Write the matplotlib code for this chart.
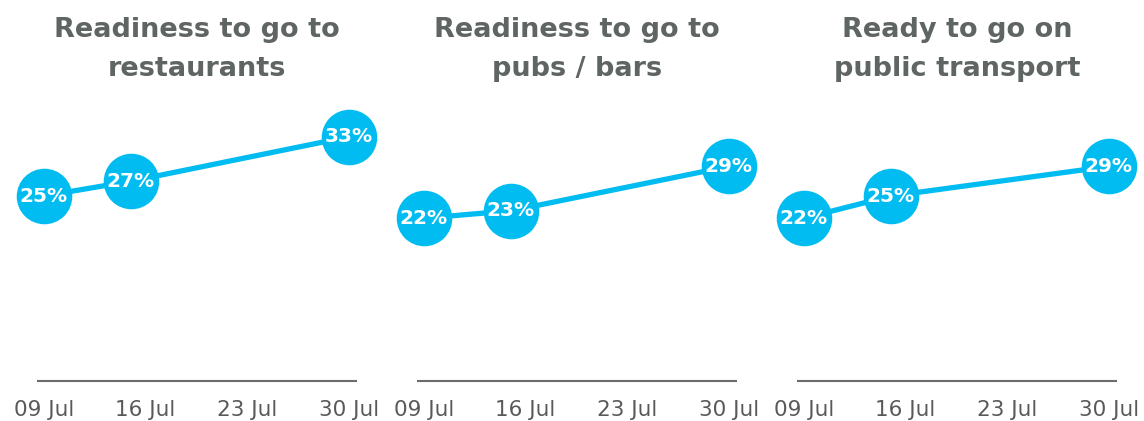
import matplotlib.pyplot as plt

# days in July
days = [9, 15, 30]
tick_days = [9, 16, 23, 30]
tick_labels = ["09 Jul", "16 Jul", "23 Jul", "30 Jul"]

titles = ["Readiness to go to\nrestaurants",
          "Readiness to go to\npubs / bars",
          "Ready to go on\npublic transport"]
restaurants = [25, 27, 33]
pubs = [22, 23, 29]
transport = [22, 25, 29]
series = [restaurants, pubs, transport]

blue = "#00BCF1"
grey = "#5f6562"

fig = plt.figure(figsize=(11.44, 4.21), dpi=100)
lefts = [38 / 1144, 418 / 1144, 798 / 1144]

for left, title, vals in zip(lefts, titles, series):
    ax = fig.add_axes([left, 40 / 421, 318 / 1144, 296 / 421])
    ax.plot(days, vals, color=blue, lw=3.8, marker="o", markersize=40,
            markeredgewidth=0, clip_on=False, zorder=3)
    for d, v in zip(days, vals):
        ax.text(d, v, f"{v}%", color="white", fontsize=14.5, fontweight="bold",
                ha="center", va="center", zorder=4)
    ax.set_xlim(8.6, 30.5)
    ax.set_ylim(0, 40)
    ax.set_xticks(tick_days)
    ax.set_xticklabels(tick_labels)
    ax.set_yticks([])
    for s in ["top", "left", "right"]:
        ax.spines[s].set_visible(False)
    ax.spines["bottom"].set_color("#6b6b6b")
    ax.spines["bottom"].set_linewidth(1.5)
    ax.tick_params(axis="x", length=0, pad=14, labelsize=15.5, labelcolor="#595959")
    fig.text(left + 159 / 1144, 1 - 17 / 421, title, ha="center", va="top",
             fontsize=19.5, fontweight="bold", color=grey, linespacing=1.65)

fig.savefig("out.png", dpi=100)
